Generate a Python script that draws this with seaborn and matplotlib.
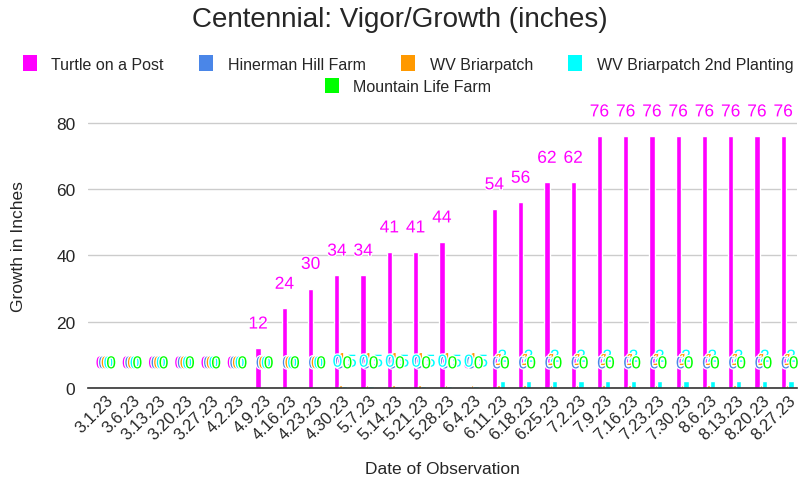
import numpy as np
import pandas as pd
import matplotlib
matplotlib.use("Agg")
import matplotlib.pyplot as plt
import matplotlib.patheffects as pe
from matplotlib.patches import Patch
import seaborn as sns

dates = ["3.1.23", "3.6.23", "3.13.23", "3.20.23", "3.27.23", "4.2.23", "4.9.23",
         "4.16.23", "4.23.23", "4.30.23", "5.7.23", "5.14.23", "5.21.23", "5.28.23",
         "6.4.23", "6.11.23", "6.18.23", "6.25.23", "7.2.23", "7.9.23", "7.16.23",
         "7.23.23", "7.30.23", "8.6.23", "8.13.23", "8.20.23", "8.27.23"]

turtle = [0, 0, 0, 0, 0, 0, 12, 24, 30, 34, 34, 41, 41, 44,
          0, 54, 56, 62, 62, 76, 76, 76, 76, 76, 76, 76, 76]
hinerman = [0] * 27
briarpatch = [0, 0, 0, 0, 0, 0, 0, 0, 0, 1, 1, 1, 1, 1,
              1, 1, 1, 1, 1, 1, 1, 1, 1, 1, 1, 1, 1]
briarpatch2 = [0, 0, 0, 0, 0, 0, 0, 0, 0, 0.5, 0.5, 0.5, 0.5, 0.5,
               0.5, 2, 2, 2, 2, 2, 2, 2, 2, 2, 2, 2, 2]
mountain = [0] * 27

series = ["Turtle on a Post", "Hinerman Hill Farm", "WV Briarpatch",
          "WV Briarpatch 2nd Planting", "Mountain Life Farm"]
palette = ["#ff00ff", "#4a86e8", "#ff9900", "#00ffff", "#00ff00"]

df = pd.DataFrame({
    "date": dates * 5,
    "farm": np.repeat(series, len(dates)),
    "growth": turtle + hinerman + briarpatch + briarpatch2 + mountain,
})

sns.set_style("white")
plt.rcParams["font.family"] = ["Liberation Sans", "DejaVu Sans"]

fig = plt.figure(figsize=(8, 4.89), dpi=100)
ax = fig.add_axes([0.11, 0.2045, 0.886, 0.583])

sns.barplot(data=df, x="date", y="growth", hue="farm", hue_order=series,
            palette=palette, order=dates, width=0.5, saturation=1,
            ax=ax, legend=False)

# sheets draws the bars wider than their slot, so they overlap a bit
bw = 0.2
for cont in ax.containers:
    for b in cont:
        cx = b.get_x() + b.get_width() / 2
        b.set_width(bw)
        b.set_x(cx - bw / 2)

for cont, col in zip(ax.containers, palette):
    vals = [b.get_height() for b in cont]
    txts = ax.bar_label(cont, labels=[f"{v:g}" for v in vals], padding=12,
                        color=col, fontsize=12.5)
    for t in txts:
        t.set_path_effects([pe.withStroke(linewidth=1.8, foreground="white")])

ax.set_ylim(0, 86)
ax.set_yticks([0, 20, 40, 60, 80])
ax.tick_params(axis="y", labelsize=12.5, length=0, pad=9)
ax.tick_params(axis="x", labelsize=12, length=0, pad=3)
plt.setp(ax.get_xticklabels(), rotation=45, ha="right", rotation_mode="anchor")
ax.grid(axis="y", color="#cccccc", linewidth=1)
ax.set_axisbelow(True)
for s in ["top", "right", "left"]:
    ax.spines[s].set_visible(False)
ax.spines["bottom"].set_color("#333333")
ax.spines["bottom"].set_linewidth(1.2)
ax.set_xlim(-0.68, 26.32)

ax.set_xlabel("Date of Observation", fontsize=12.5, labelpad=14)
ax.set_ylabel("Growth in Inches", fontsize=12.5, labelpad=22)

fig.suptitle("Centennial: Vigor/Growth (inches)", fontsize=20, y=0.985)

handles = [Patch(facecolor=c, edgecolor="none") for c in palette]
fig.legend(handles[:4], series[:4], loc="center", ncol=4,
           bbox_to_anchor=(0.51, 0.868), frameon=False, fontsize=11.5,
           handlelength=0.9, handleheight=1.1, handletextpad=0.9,
           columnspacing=2.2)
fig.legend(handles[4:], series[4:], loc="center", ncol=1,
           bbox_to_anchor=(0.51, 0.823), frameon=False, fontsize=11.5,
           handlelength=0.9, handleheight=1.1, handletextpad=0.9)

fig.savefig("out.png", dpi=100)
